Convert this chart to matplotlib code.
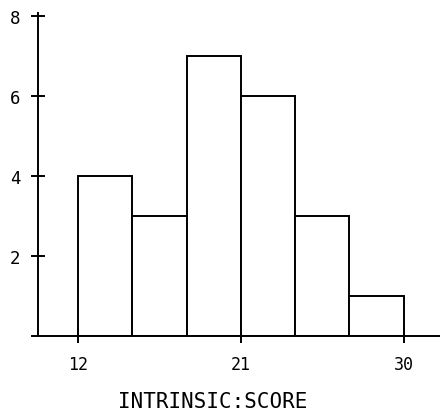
import matplotlib
matplotlib.use("Agg")
import matplotlib.pyplot as plt

# histogram of intrinsic scores
bin_left = [12, 15, 18, 21, 24, 27]
counts = [4, 3, 7, 6, 3, 1]
bin_width = 3
xticks = [12, 21, 30]
yticks = [2, 4, 6, 8]

plt.rcParams['font.family'] = ['DejaVu Sans Mono']

fig = plt.figure(figsize=(4.4, 4.14), dpi=100)
ax = fig.add_axes([32 / 440, 77 / 414, 408 / 440, 324 / 414])

ax.bar(bin_left, counts, width=bin_width, align='edge',
       facecolor='white', edgecolor='black', linewidth=1.4)

ax.set_xlim(9.46, 32.0)
ax.set_ylim(0, 8.1)

for s in ['top', 'right']:
    ax.spines[s].set_visible(False)
ax.spines['left'].set_position(('data', 9.79))
ax.spines['left'].set_bounds(0, 8.08)
ax.spines['left'].set_linewidth(1.4)
ax.spines['bottom'].set_linewidth(1.4)

ax.set_xticks(xticks)
ax.set_yticks(yticks)
ax.tick_params(direction='inout', length=9.5, width=1.4, labelsize=12,
               colors='black')
ax.tick_params(axis='y', pad=8, labelsize=12.5)
ax.tick_params(axis='x', pad=9)

ax.set_xlabel('INTRINSIC:SCORE', fontsize=15)
ax.xaxis.set_label_coords(0.444, -0.2)
ax.xaxis.label.set_va('center')

fig.savefig('out.png', dpi=100)
